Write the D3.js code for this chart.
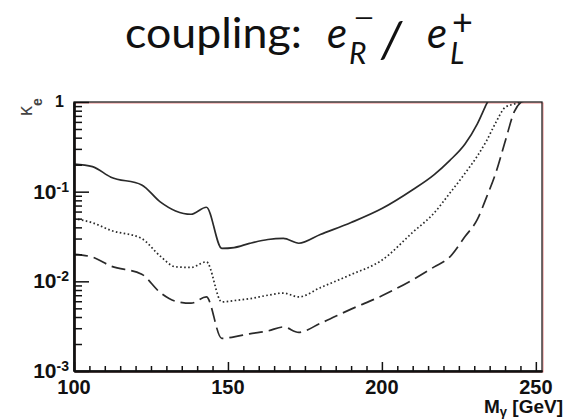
<!DOCTYPE html>
<html>
<head>
<meta charset="utf-8">
<script src="https://cdn.jsdelivr.net/npm/d3@7"></script>
<style>
  body { margin: 0; background: #fff; }
  text { font-family: "Liberation Sans", Arial, sans-serif; }
</style>
</head>
<body>
<div id="chart"></div>
<script>
// mass points (GeV) and the three kappa_e limit curves
var mass    = [100, 106, 112, 122, 128, 133, 138, 143, 148, 152, 157, 163, 168, 173, 180, 190, 200, 210, 217, 222, 227, 231, 234, 237, 240, 243, 246, 249];
var kSolid  = [0.203, 0.19, 0.145, 0.119, 0.077, 0.061, 0.056, 0.067, 0.0233, 0.0238, 0.0265, 0.0293, 0.0301, 0.0266, 0.0333, 0.0453, 0.0648, 0.105, 0.155, 0.222, 0.34, 0.57, 0.95, 1.5, null, null, null, null];
var kDotted = [0.050, 0.045, 0.037, 0.030, 0.0191, 0.0145, 0.0143, 0.0165, 0.0059, 0.0061, 0.0064, 0.0070, 0.0074, 0.0067, 0.0085, 0.0119, 0.0172, 0.0352, 0.058, 0.0957, 0.160, 0.25, 0.37, 0.59, 0.87, 0.95, 1.02, null];
var kDashed = [0.020, 0.0186, 0.0148, 0.0120, 0.0075, 0.0060, 0.0057, 0.0067, 0.00231, 0.0024, 0.0026, 0.0028, 0.0031, 0.0027, 0.0034, 0.0049, 0.0069, 0.0104, 0.0145, 0.0186, 0.0316, 0.049, 0.087, 0.162, 0.36, 0.78, 1.05, null];

var xTicks = [100, 150, 200, 250];
var yTicks = [1e-3, 1e-2, 1e-1, 1];
var yTickExp = ["-3", "-2", "-1", ""];

var W = 566, H = 420;
var margin = { top: 102, right: 24, bottom: 49, left: 74 };
var width = W - margin.left - margin.right,
  height = H - margin.top - margin.bottom;

var svg = d3.select("#chart").append("svg").attr("width", W).attr("height", H);

var x = d3.scaleLinear().domain([100, 252]).range([margin.left, margin.left + width]);
var y = d3.scaleLog().domain([1e-3, 1]).range([margin.top + height, margin.top]);

// title
var title = svg.append("g").style("font-family", "Lato").attr("fill", "#111");
function tpart(tx, ty, size, italic, str) {
  return title.append("text").attr("x", tx).attr("y", ty)
    .style("font-family", "Lato").style("font-size", size + "px")
    .style("font-style", italic ? "italic" : "normal").text(str);
}
tpart(125, 48, 42, false, "coupling:").attr("textLength", 177).attr("lengthAdjust", "spacingAndGlyphs");
tpart(327, 48, 42, true, "e");
tpart(349, 64, 30, true, "R");
tpart(353, 27, 26, false, "\u2212").attr("textLength", 22).attr("lengthAdjust", "spacingAndGlyphs");
tpart(381, 57, 50, true, "/");
var eL = tpart(427, 48, 42, true, "e");
eL.append("tspan").attr("x", 450).attr("y", 64).style("font-size", "30px").text("L");
eL.append("tspan").attr("x", 452).attr("y", 35).style("font-size", "36px").style("font-style", "normal").text("+");

// clip for curves
svg.append("clipPath").attr("id", "plotclip")
  .append("rect")
  .attr("x", margin.left).attr("y", margin.top)
  .attr("width", width).attr("height", height);

// frame (thin red shadow + black box)
svg.append("rect")
  .attr("x", margin.left + 1).attr("y", margin.top + 1)
  .attr("width", width).attr("height", height)
  .attr("fill", "none").attr("stroke", "#e88").attr("stroke-width", 1);
svg.append("rect")
  .attr("x", margin.left).attr("y", margin.top)
  .attr("width", width).attr("height", height)
  .attr("fill", "none").attr("stroke", "#222").attr("stroke-width", 1.3);

// curves
var line = function (vals) {
  return d3.line()
    .defined(function (d, i) { return vals[i] != null; })
    .x(function (d, i) { return x(mass[i]); })
    .y(function (d, i) { return y(vals[i]); })
    .curve(d3.curveMonotoneX)(mass);
};
var curves = svg.append("g").attr("clip-path", "url(#plotclip)")
  .attr("fill", "none").attr("stroke", "#2a2a2a").attr("stroke-width", 1.7);
curves.append("path").attr("d", line(kSolid));
curves.append("path").attr("d", line(kDotted)).attr("stroke-dasharray", "1.6,2.4");
curves.append("path").attr("d", line(kDashed)).attr("stroke-dasharray", "14,6");

// y axis ticks (inside)
var yMinor = [];
yTicks.slice(0, 3).forEach(function (d) {
  for (var k = 2; k <= 9; k++) yMinor.push(d * k);
});
var yAxisMinor = d3.axisLeft(y).tickValues(yMinor).tickSizeInner(-8).tickSizeOuter(0).tickFormat("");
var yAxisMajor = d3.axisLeft(y).tickValues(yTicks).tickSizeInner(-15).tickSizeOuter(0).tickFormat("");
svg.append("g").attr("transform", "translate(" + margin.left + ",0)").call(yAxisMinor);
svg.append("g").attr("transform", "translate(" + margin.left + ",0)").call(yAxisMajor);

// x axis ticks (inside)
var xMinor = d3.range(100, 253, 5).filter(function (d) { return d % 50 != 0; });
var xAxisMinor = d3.axisBottom(x).tickValues(xMinor).tickSizeInner(-5).tickSizeOuter(0).tickFormat("");
var xAxisMajor = d3.axisBottom(x).tickValues(xTicks).tickSizeInner(-9).tickSizeOuter(0).tickFormat("");
svg.append("g").attr("transform", "translate(0," + (margin.top + height) + ")").call(xAxisMinor);
svg.append("g").attr("transform", "translate(0," + (margin.top + height) + ")").call(xAxisMajor);

svg.selectAll(".tick line").attr("stroke", "#111").attr("stroke-width", 1.5);
svg.selectAll(".domain").attr("stroke", "#111").attr("stroke-width", 2.2);

// y tick labels
yTicks.forEach(function (d, i) {
  var t = svg.append("text")
    .attr("x", 69).attr("y", y(d) + 7)
    .attr("text-anchor", "end")
    .style("font-weight", "bold").attr("fill", "#111");
  if (yTickExp[i] == "") {
    t.style("font-size", "16px").attr("x", 64).attr("y", y(d) + 5).text("1");
  } else {
    t.style("font-size", "21px");
    t.append("tspan").text("10");
    t.append("tspan").attr("dy", -7).style("font-size", "14px").text(yTickExp[i]);
  }
});

// x tick labels
xTicks.forEach(function (d) {
  svg.append("text")
    .attr("x", x(d)).attr("y", 394)
    .attr("text-anchor", "middle")
    .style("font-size", "20px").style("font-weight", "bold").attr("fill", "#111")
    .text(d);
});

// axis titles
var xt = svg.append("text").attr("x", 563).attr("y", 413).attr("text-anchor", "end")
  .style("font-size", "19px").style("font-weight", "bold").attr("fill", "#111");
xt.append("tspan").text("M");
xt.append("tspan").attr("dy", 3).style("font-size", "13px").text("\u03b3");
xt.append("tspan").attr("dy", -3).text(" [GeV]");

var yt = svg.append("text").attr("transform", "translate(32,116) rotate(-90)")
  .style("font-size", "20px").attr("fill", "#444");
yt.append("tspan").text("\u03ba");
yt.append("tspan").attr("dy", 10).style("font-size", "14px").style("font-weight", "bold").text("e");
</script>
</body>
</html>
